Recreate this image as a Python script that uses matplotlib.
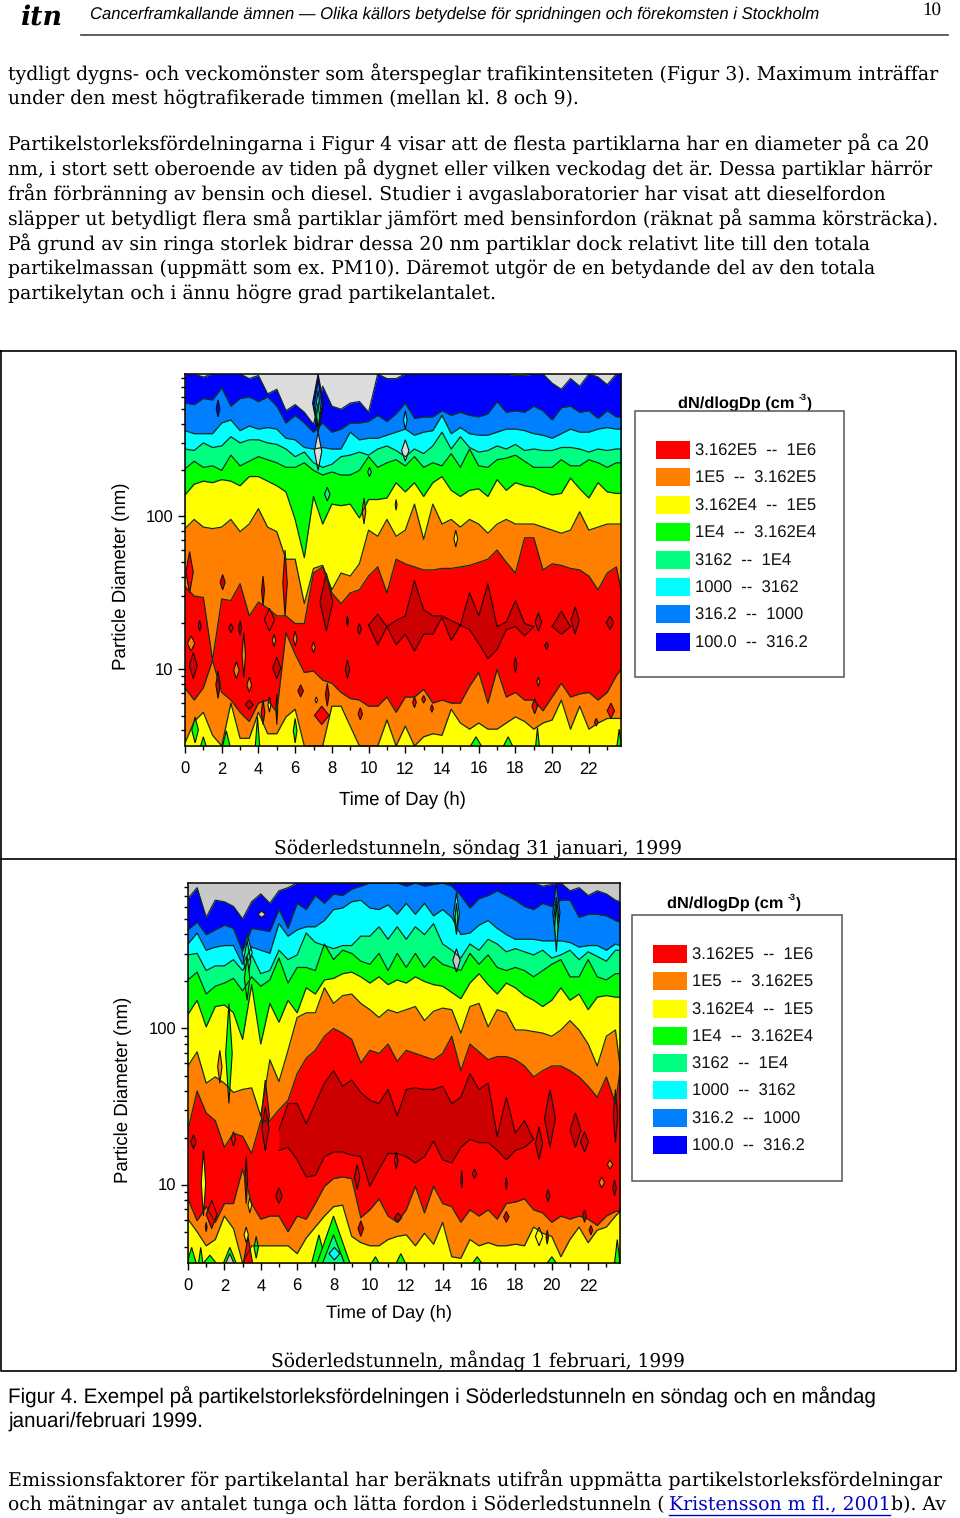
import numpy as np
import matplotlib
matplotlib.use("Agg")
import matplotlib.pyplot as plt
from matplotlib.patches import Rectangle
from matplotlib.ticker import LogLocator, NullFormatter

# time of day (h)
hours = [0, .5, 1, 1.5, 2, 2.5, 3, 3.5, 4, 4.5, 5, 5.5, 6, 6.5, 7, 7.5, 8, 8.5, 9, 9.5,
         10, 10.5, 11, 11.5, 12, 12.5, 13, 13.5, 14, 14.5, 15, 15.5, 16, 16.5, 17, 17.5,
         18, 18.5, 19, 19.5, 20, 20.5, 21, 21.5, 22, 22.5, 23, 23.5, 23.75]

# all diameters below are 100*log10(Dp/nm)
# sunday: lower edge of each contour band, from the top of the plot down
sun_blue = [293, 293, 291, 293, 293, 293, 293, 290, 292, 280,
            283, 269, 273, 268, 260, 285, 272, 270, 274, 275,
            268, 293, 290, 290, 293, 293, 293, 293, 293, 293,
            293, 293, 293, 293, 293, 293, 292, 292, 293, 293,
            287, 283, 290, 285, 293, 291, 286, 293, 293]
sun_mid = [274, 273, 277, 276, 284, 272, 277, 278, 275, 278,
           272, 261, 266, 261, 255, 261, 255, 257, 261, 261,
           262, 266, 262, 267, 274, 264, 265, 265, 269, 266,
           268, 266, 265, 267, 275, 268, 269, 268, 272, 269,
           263, 271, 272, 268, 269, 264, 269, 265, 265]
sun_cyan = [256, 254, 254, 254, 261, 263, 256, 259, 257, 258,
            257, 251, 250, 245, 244, 245, 244, 244, 255, 250,
            251, 251, 253, 255, 257, 253, 255, 256, 266, 254,
            258, 254, 253, 253, 255, 257, 257, 256, 254, 253,
            251, 254, 257, 255, 255, 257, 258, 257, 257]
sun_spring = [244, 243, 248, 245, 246, 252, 248, 250, 250, 248,
              247, 244, 239, 242, 235, 232, 234, 239, 240, 242,
              240, 244, 246, 243, 239, 244, 241, 246, 255, 244,
              252, 245, 242, 243, 246, 244, 247, 243, 244, 243,
              243, 245, 245, 244, 242, 244, 243, 244, 244]
sun_green = [231, 236, 232, 233, 230, 240, 233, 236, 239, 237,
             235, 232, 232, 235, 230, 227, 229, 227, 227, 230,
             239, 232, 235, 237, 233, 239, 232, 235, 233, 241,
             232, 244, 233, 232, 237, 238, 240, 236, 232, 232,
             232, 237, 233, 233, 237, 235, 232, 235, 235]
sun_yellow = [214, 221, 223, 222, 224, 223, 220, 226, 226, 223,
              220, 216, 198, 173, 213, 195, 208, 207, 208, 199,
              211, 211, 212, 222, 216, 222, 213, 222, 226, 217,
              213, 217, 218, 213, 224, 217, 222, 220, 219, 216,
              214, 215, 225, 218, 212, 222, 216, 215, 215]
sun_orange = [192, 198, 193, 192, 193, 198, 190, 195, 205, 193,
              190, 172, 172, 143, 166, 168, 152, 163, 161, 169,
              191, 187, 198, 187, 191, 208, 185, 208, 195, 198,
              193, 198, 195, 189, 195, 198, 195, 195, 195, 193,
              191, 189, 191, 203, 191, 193, 195, 195, 195]
sun_red = [154, 148, 147, 106, 146, 145, 156, 135, 144, 140,
           135, 135, 130, 130, 163, 167, 150, 143, 150, 152,
           161, 167, 150, 172, 169, 167, 165, 165, 166, 166,
           167, 168, 170, 172, 178, 170, 163, 186, 186, 165,
           169, 168, 166, 165, 161, 152, 163, 167, 152]
sun_red_low = [88, 80, 88, 106, 85, 80, 72, 66, 78, 80,
               72, 124, 110, 98, 99, 93, 91, 85, 81, 80,
               76, 76, 82, 72, 82, 82, 87, 78, 80, 78,
               78, 89, 98, 78, 100, 82, 85, 80, 80, 73,
               82, 91, 82, 84, 85, 80, 85, 96, 100]
sun_orange_low = [52, 66, 72, 57, 50, 78, 55, 55, 72, 58,
                  58, 69, 74, 50, 50, 50, 76, 76, 63, 50,
                  50, 50, 67, 50, 63, 50, 56, 58, 57, 74,
                  65, 61, 65, 61, 61, 65, 69, 66, 61, 65,
                  67, 80, 61, 76, 61, 65, 68, 68, 68]
sun_dark_top = [None] * 20 + [129, 136, 128, 132, 135, 158, 139, 135, 135, 132,
                              129, 150, 135, 156, 128, 131, 145, 130, 128, None,
                              128, 138, 128] + [None] * 6
sun_dark_low = [None] * 20 + [129, 116, 128, 116, 123, 112, 123, 123, 134, 119,
                              129, 126, 117, 107, 113, 126, 128, 122, 128, None,
                              128, 123, 128] + [None] * 6

# monday
mon_blue = [283, 290, 271, 282, 281, 278, 270, 281, 286, 280,
            288, 290, 293, 293, 293, 293, 293, 293, 293, 293,
            293, 293, 293, 293, 293, 293, 293, 293, 293, 293,
            293, 293, 293, 293, 293, 293, 293, 293, 293, 291,
            292, 293, 288, 290, 285, 288, 286, 282, 281]
mon_mid = [263, 268, 260, 263, 266, 264, 249, 264, 263, 262,
           276, 264, 280, 276, 285, 280, 286, 285, 289, 291,
           293, 293, 293, 293, 291, 293, 291, 292, 293, 291,
           285, 277, 283, 285, 288, 285, 282, 278, 276, 280,
           278, 282, 282, 271, 273, 273, 272, 269, 268]
mon_cyan = [254, 261, 250, 252, 253, 253, 241, 252, 250, 248,
            267, 259, 263, 265, 265, 269, 276, 277, 281, 282,
            277, 276, 279, 273, 280, 273, 280, 272, 276, 271,
            260, 261, 266, 269, 264, 260, 257, 257, 257, 256,
            256, 256, 255, 252, 253, 253, 250, 254, 253]
mon_spring = [247, 248, 237, 240, 240, 244, 237, 247, 235, 237,
              250, 244, 247, 261, 255, 253, 251, 253, 253, 259,
              259, 265, 257, 265, 257, 265, 260, 267, 254, 250,
              245, 254, 250, 257, 254, 249, 251, 249, 247, 250,
              245, 247, 250, 244, 249, 246, 243, 250, 250]
mon_green = [231, 236, 222, 227, 229, 232, 224, 233, 227, 231,
             245, 229, 239, 239, 237, 254, 244, 250, 248, 243,
             241, 248, 237, 248, 239, 248, 239, 246, 241, 239,
             237, 248, 241, 247, 239, 237, 239, 237, 233, 237,
             241, 244, 233, 233, 244, 233, 231, 235, 235]
mon_yellow = [209, 218, 201, 214, 215, 210, 193, 228, 190, 216,
              204, 218, 210, 226, 222, 231, 232, 235, 236, 233,
              229, 233, 228, 231, 229, 233, 230, 228, 227, 223,
              219, 229, 235, 228, 222, 229, 226, 221, 218, 214,
              218, 226, 218, 222, 212, 220, 221, 220, 220]
mon_orange = [176, 185, 165, 169, 165, 159, 161, 162, 144, 180,
              166, 186, 207, 210, 210, 226, 216, 221, 222, 216,
              212, 207, 212, 210, 212, 214, 205, 211, 213, 212,
              197, 214, 216, 201, 212, 210, 199, 199, 198, 197,
              195, 199, 205, 199, 190, 176, 195, 199, 176]
mon_red = [135, 160, 146, 141, 124, 133, 131, 120, 141, 141,
           148, 154, 171, 181, 186, 195, 200, 197, 193, 178,
           186, 184, 190, 179, 186, 184, 182, 180, 184, 195,
           173, 190, 185, 180, 182, 182, 180, 176, 169, 173,
           176, 176, 173, 169, 163, 156, 169, 152, 173]
mon_red_low = [91, 77, 86, 76, 88, 88, 110, 88, 78, 80,
               80, 70, 80, 78, 88, 99, 104, 105, 104, 79,
               84, 91, 80, 76, 84, 99, 82, 99, 88, 86,
               76, 84, 80, 84, 78, 88, 89, 91, 84, 82,
               76, 80, 78, 80, 78, 74, 80, 83, 83]
mon_orange_low = [78, 70, 61, 65, 80, 72, 50, 61, 61, 61,
                  61, 61, 56, 66, 73, 80, 86, 87, 67, 63,
                  61, 61, 65, 67, 68, 61, 69, 62, 76, 54,
                  53, 65, 61, 63, 61, 61, 62, 61, 73, 69,
                  67, 54, 65, 73, 63, 71, 73, 80, 83]
mon_dark_top = [None] * 10 + [135, 152, 152, 139, 152, 165, 173, 163, 167, 159,
                              154, 152, 161, 144, 161, 162, 161, 161, 163, 152,
                              156, 171, 161, 165, 131, 156, 133, 141, 129] + [None] * 10
mon_dark_low = [None] * 10 + [122, 124, 116, 105, 106, 118, 121, 121, 119, 118,
                              99, 110, 120, 120, 118, 114, 118, 128, 116, 114,
                              124, 129, 127, 127, 122, 116, 122, 124, 129] + [None] * 10

# small closed contours: hour, low, high, half width (h), band
GREY, BLUE, MID, CYAN, SPRING, GREEN, YELLOW, ORANGE, RED, DARK = range(10)
sun_spots = [(7.25, 255, 293, .3, BLUE), (7.25, 255, 289, .22, MID), (7.25, 256, 282, .15, CYAN),
             (7.25, 257, 274, .08, SPRING), (7.25, 230, 255, .2, GREY), (12, 257, 269, .1, CYAN),
             (12, 236, 250, .2, GREY), (1.8, 265, 276, .1, BLUE), (10.05, 226, 232, .1, SPRING),
             (7.75, 210, 219, .15, SPRING), (11.5, 204, 211, .05, ORANGE), (9.75, 195, 212, .1, ORANGE),
             (14.75, 180, 191, .1, YELLOW), (.25, 150, 177, .2, RED), (5.45, 135, 178, .12, RED),
             (4.6, 125, 140, .28, RED), (7.7, 125, 163, .35, DARK), (.45, 94, 111, .22, DARK),
             (.8, 125, 132, .08, DARK), (2.05, 152, 162, .14, DARK), (4.25, 142, 161, .08, DARK),
             (2.5, 124, 130, .12, DARK), (3, 122, 132, .08, DARK), (5, 94, 108, .22, DARK),
             (1.8, 81, 99, .12, DARK), (3.5, 74, 80, .22, DARK), (6.3, 82, 90, .15, DARK),
             (7.75, 76, 91, .1, DARK), (8.85, 94, 106, .12, DARK), (9.55, 67, 75, .12, RED),
             (12.5, 75, 82, .1, RED), (13, 78, 83, .1, RED), (13.45, 72, 77, .08, RED),
             (18, 98, 108, .08, DARK), (19.25, 125, 137, .18, DARK), (21.25, 123, 141, .22, DARK),
             (23.15, 126, 135, .2, DARK), (23.2, 68, 78, .2, RED), (19.7, 113, 118, .1, DARK),
             (19.05, 71, 81, .15, RED), (22.4, 63, 68, .1, RED), (9.5, 123, 130, .1, DARK),
             (8.85, 128, 135, .05, DARK), (.33, 112, 122, .2, ORANGE), (3.5, 85, 95, .13, ORANGE),
             (2.8, 94, 105, .15, ORANGE), (4.85, 115, 123, .1, ORANGE), (6, 115, 125, .1, ORANGE),
             (7, 111, 118, .1, ORANGE), (3.2, 95, 124, .1, ORANGE), (19.25, 89, 95, .08, ORANGE),
             (7.45, 64, 76, .4, RED), (4.25, 64, 80, .1, RED), (5, 64, 84, .05, RED),
             (.55, 52, 69, .18, GREEN), (1, 50, 56, .15, GREEN), (2.25, 50, 60, .2, GREEN),
             (3.95, 50, 69, .12, GREEN), (6, 52, 68, .1, GREEN), (15.85, 50, 56, .3, GREEN),
             (17.6, 50, 56, .25, GREEN), (19.2, 50, 62, .1, GREEN), (23.65, 50, 61, .12, GREEN),
             (7.15, 78, 82, .07, YELLOW), (4.6, 72, 82, .08, YELLOW)]
mon_spots = [(14.76, 260, 287, .16, CYAN), (14.76, 262, 280, .08, SPRING), (14.76, 236, 251, .2, GREY),
             (4.05, 271, 275, .22, GREY), (20.25, 255, 293, .2, MID), (20.25, 256, 284, .14, CYAN),
             (20.25, 249, 280, .09, SPRING), (2.25, 152, 216, .18, GREEN),
             (3.25, 237, 260, .28, CYAN), (3.25, 231, 256, .2, SPRING), (3.25, 218, 246, .15, GREEN),
             (1.75, 165, 186, .12, ORANGE), (.85, 80, 122, .12, YELLOW), (1.3, 72, 90, .3, RED),
             (2.5, 125, 134, .12, RED), (3.2, 88, 118, .08, DARK), (3.4, 82, 92, .1, YELLOW),
             (4.25, 122, 167, .22, RED), (4.25, 122, 150, .2, DARK), (.3, 123, 132, .15, DARK),
             (1, 70, 76, .05, DARK), (5, 88, 98, .18, DARK), (9.3, 97, 113, .15, DARK),
             (11.45, 110, 121, .1, DARK), (15.75, 104, 110, .12, DARK), (15.05, 98, 109, .05, DARK),
             (17.5, 97, 105, .05, DARK), (17.5, 76, 83, .15, DARK), (19.9, 124, 161, .3, DARK),
             (21.3, 124, 146, .3, DARK), (21.8, 121, 134, .22, DARK), (19.3, 116, 137, .2, DARK),
             (23.5, 127, 161, .12, DARK), (23.45, 93, 103, .1, DARK), (22.75, 98, 105, .15, ORANGE),
             (23.2, 110, 116, .15, ORANGE), (21.8, 76, 84, .1, DARK), (22.15, 68, 74, .1, DARK),
             (19.8, 89, 97, .1, DARK), (9.5, 67, 77, .15, DARK), (11.55, 76, 82, .2, DARK),
             (3.3, 50, 67, .25, RED), (3.75, 53, 67, .12, GREEN), (2.3, 50, 60, .35, GREEN),
             (2.3, 50, 56, .22, GREY), (.2, 50, 60, .25, GREEN), (.7, 50, 60, .12, GREEN),
             (1.2, 50, 55, .35, GREEN), (7.2, 50, 68, .4, GREEN), (8, 50, 80, .9, GREEN),
             (8, 50, 68, .6, SPRING), (8.05, 52, 60, .3, CYAN), (10.3, 50, 54, .2, GREEN),
             (11.7, 50, 56, .25, GREEN), (15.9, 50, 54, .25, GREEN), (20, 50, 54, .25, GREEN),
             (23.6, 50, 65, .15, GREEN), (3.2, 63, 73, .12, YELLOW), (19.3, 61, 73, .2, YELLOW),
             (19.75, 62, 71, .07, DARK)]

band_colors = ["#D9D9D9", "#0000FF", "#0080FF", "#00FFFF", "#00FF80",
               "#00FF00", "#FFFF00", "#FF8000", "#FF0000", "#CC0000"]
legend_labels = ["3.162E5  --  1E6", "1E5  --  3.162E5", "3.162E4  --  1E5", "1E4  --  3.162E4",
                 "3162  --  1E4", "1000  --  3162", "316.2  --  1000", "100.0  --  316.2"]
legend_colors = ["#FF0000", "#FF8000", "#FFFF00", "#00FF00", "#00FF80", "#00FFFF", "#0080FF", "#0000FF"]

body_lines = [
    (74, 940, "tydligt dygns- och veckomönster som återspeglar trafikintensiteten (Figur 3). Maximum inträffar"),
    (99, 580, "under den mest högtrafikerade timmen (mellan kl. 8 och 9)."),
    (144, 930, "Partikelstorleksfördelningarna i Figur 4 visar att de flesta partiklarna har en diameter på ca 20"),
    (169, 936, "nm, i stort sett oberoende av tiden på dygnet eller vilken veckodag det är. Dessa partiklar härrör"),
    (194, 884, "från förbränning av bensin och diesel. Studier i avgaslaboratorier har visat att dieselfordon"),
    (219, 942, "släpper ut betydligt flera små partiklar jämfört med bensinfordon (räknat på samma körsträcka)."),
    (244, 871, "På grund av sin ringa storlek bidrar dessa 20 nm partiklar dock relativt lite till den totala"),
    (269, 879, "partikelmassan (uppmätt som ex. PM10). Däremot utgör de en betydande del av den totala"),
    (294, 498, "partikelytan och i ännu högre grad partikelantalet."),
    (1480, 941, "Emissionsfaktorer för partikelantal har beräknats utifrån uppmätta partikelstorleksfördelningar"),
]

plt.rcParams["font.family"] = ["Liberation Sans", "DejaVu Sans"]
plt.rcParams["text.hinting"] = "no_hinting"
fig = plt.figure(figsize=(9.6, 15.18), dpi=100)
renderer = fig.canvas.get_renderer()

page = fig.add_axes([0, 0, 1, 1])
page.set_xlim(0, 960)
page.set_ylim(1518, 0)
page.axis("off")


def put(s, x0, x1, y, **kw):
    t = page.text(x0, y, s, va="center", ha="left", fontsize=12, **kw)
    for i in range(3):
        t.set_fontsize(t.get_fontsize() * (x1 - x0) / t.get_window_extent(renderer).width)
    return t


def put_up(s, x, y0, y1):
    t = page.text(x, (y0 + y1) / 2, s, va="center", ha="center", rotation=90, fontsize=12)
    for i in range(3):
        t.set_fontsize(t.get_fontsize() * (y1 - y0) / t.get_window_extent(renderer).height)


def draw_panel(box, edges, dark_top, dark_low, spots, grey):
    left, right, top, bottom = box
    ax = fig.add_axes([left / 960, 1 - bottom / 1518, (right - left) / 960, (bottom - top) / 1518])
    ax.set_facecolor(grey)
    ax.set_yscale("log")
    t = np.array(hours)
    floor = 10 ** .5

    # each band is painted from its upper edge down, later bands cover it
    for edge, level in edges:
        d = 10 ** (np.array(edge) / 100)
        ax.fill_between(t, d, floor, color=band_colors[level], lw=0)
        ax.plot(t, d, color="#10301a", lw=.9)

    d_top = 10 ** (np.array(dark_top, dtype=float) / 100)
    d_low = 10 ** (np.array(dark_low, dtype=float) / 100)
    ax.fill_between(t, d_low, d_top, color=band_colors[DARK], lw=0)
    ax.plot(t, d_top, color="#300000", lw=.9)
    ax.plot(t, d_low, color="#300000", lw=.9)

    for hour, low, high, width, level in spots:
        # spots standing on the bottom axis are cut in half by it
        if low <= 50:
            low = 100 - high
        mid = (low + high) / 2
        xs = [hour - width, hour, hour + width, hour]
        ys = 10 ** (np.array([mid, high, mid, low]) / 100)
        face = grey if level == GREY else band_colors[level]
        ax.fill(xs, ys, facecolor=face, edgecolor="#101010", lw=.8)

    ax.set_xlim(0, 23.75)
    ax.set_ylim(floor, 10 ** 2.93)
    ax.set_xticks(range(0, 24, 2))
    ax.set_xticks(range(1, 24, 2), minor=True)
    ax.set_yticks([10, 100])
    ax.set_yticklabels(["10", "100"])
    ax.yaxis.set_minor_locator(LogLocator(base=10, subs=range(2, 10), numticks=10))
    ax.yaxis.set_minor_formatter(NullFormatter())
    ax.tick_params(which="major", length=5, width=1, labelsize=12, pad=3.5)
    ax.tick_params(axis="x", which="major", pad=6.5)
    ax.tick_params(which="minor", length=3, width=1)
    for s in ax.spines.values():
        s.set_linewidth(1.1)
    return ax


def draw_legend(x0, x1, y0, y1, swatch_x, rows, title_x, title_y):
    page.add_patch(Rectangle((x0, y0), x1 - x0, y1 - y0, fc="white", ec="#555555", lw=1.1, zorder=3))
    put("dN/dlogDp (cm", title_x, title_x + 117, title_y, fontweight="bold", zorder=2)
    put("-3", title_x + 121, title_x + 129, title_y - 6, fontweight="bold", zorder=2)
    put(")", title_x + 129, title_x + 134, title_y, fontweight="bold", zorder=2)
    for y, label, color in zip(rows, legend_labels, legend_colors):
        page.add_patch(Rectangle((swatch_x, y - 9), 34, 18, fc=color, ec="none", zorder=4))
        page.text(swatch_x + 39, y + 1, label, va="center", fontsize=12, color="#111111", zorder=4)


# page furniture
put("itn", 20, 62, 17, family="DejaVu Serif", style="italic", fontweight="bold")
put("Cancerframkallande ämnen — Olika källors betydelse för spridningen och förekomsten i Stockholm",
    90, 817, 14, style="italic")
put("10", 922, 941, 10, family="Liberation Serif")
page.plot([81, 948], [35, 35], color="#444444", lw=1.2)

for y, x1, s in body_lines:
    put(s, 8, x1, y, family="DejaVu Serif")
put("och mätningar av antalet tunga och lätta fordon i Söderledstunneln (", 8, 667, 1505, family="DejaVu Serif")
put("Kristensson m fl., 2001", 669, 890, 1505, family="DejaVu Serif", color="#0000CC")
page.plot([669, 890], [1515, 1515], color="#0000CC", lw=1)
put("b). Av", 891, 946, 1505, family="DejaVu Serif")

put("Figur 4. Exempel på partikelstorleksfördelningen i Söderledstunneln en söndag och en måndag", 8, 880, 1397)
put("januari/februari 1999.", 8, 203, 1421)

# frame around the figure
page.plot([0.5, 956, 956, 0.5, 0.5], [351, 351, 1371, 1371, 351], color="black", lw=1.2)
page.plot([0, 956], [859, 859], color="black", lw=1.2)

sun_edges = [(sun_blue, BLUE), (sun_mid, MID), (sun_cyan, CYAN), (sun_spring, SPRING), (sun_green, GREEN),
             (sun_yellow, YELLOW), (sun_orange, ORANGE), (sun_red, RED), (sun_red_low, ORANGE),
             (sun_orange_low, YELLOW)]
mon_edges = [(mon_blue, BLUE), (mon_mid, MID), (mon_cyan, CYAN), (mon_spring, SPRING), (mon_green, GREEN),
             (mon_yellow, YELLOW), (mon_orange, ORANGE), (mon_red, RED), (mon_red_low, ORANGE),
             (mon_orange_low, YELLOW)]

draw_panel((185, 621, 374, 746), sun_edges, sun_dark_top, sun_dark_low, sun_spots, "#DCDCDC")
draw_panel((188, 620, 883, 1263), mon_edges, mon_dark_top, mon_dark_low, mon_spots, "#C8C8C8")

put_up("Particle Diameter (nm)", 121, 483, 670)
put("Time of Day (h)", 339, 466, 800)
put("Söderledstunneln, söndag 31 januari, 1999", 274, 683, 849, family="DejaVu Serif")
put_up("Particle Diameter (nm)", 123, 997, 1183)
put("Time of Day (h)", 326, 452, 1313)
put("Söderledstunneln, måndag 1 februari, 1999", 271, 686, 1361, family="DejaVu Serif")

draw_legend(635, 844, 411, 677, 656, [450, 477, 505, 532, 560, 587, 614, 642], 678, 404)
draw_legend(632, 842, 915, 1181, 653, [954, 981, 1009, 1036, 1063, 1090, 1118, 1145], 667, 904)

fig.savefig("out.png", dpi=100)
